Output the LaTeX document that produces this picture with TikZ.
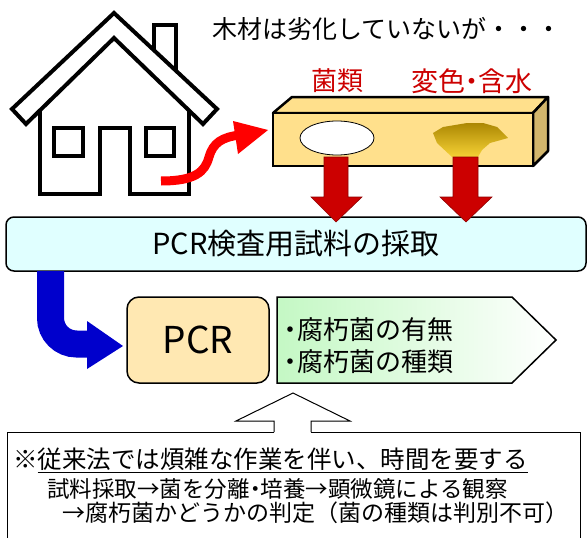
\documentclass[tikz,border=0pt]{standalone}
\usepackage{fontspec}
\setmainfont{Noto Sans CJK JP}
\newfontfamily\propfont[RawFeature=+palt]{Noto Sans CJK JP}
\usetikzlibrary{arrows.meta}

\definecolor{woodfront}{HTML}{FFE08C}
\definecolor{woodside}{HTML}{D2B66C}
\definecolor{rotdark}{HTML}{9A7600}
\definecolor{rotlight}{HTML}{F2CC10}
\definecolor{darkred}{HTML}{CC0000}
\definecolor{samplecyan}{HTML}{E0FFFF}
\definecolor{pcrorange}{HTML}{FFE8B2}
\definecolor{resgreen}{HTML}{C4F8C4}
\definecolor{flowblue}{HTML}{0000CC}

\newcommand{\fsz}[1]{\fontsize{#1}{#1}\selectfont}
\newcommand{\pdot}{{\propfont ・}}

\tikzset{
  house/.style={line width=4pt, line join=miter},
  redarrow/.style={fill=darkred, draw=darkred!70!black, line width=0.6pt},
  box/.style={draw, line width=1.5pt, inner sep=0pt},
}

\begin{document}
\begin{tikzpicture}[x=1pt, y=-1pt, >=latex]
    \useasboundingbox (0,0) rectangle (587,538);

    % 1. Nha: mai, ong khoi, tuong, cua so
    \draw[house, fill=white] (12,109) -- (114,13) -- (217,109) -- (203,124)
        -- (114,38) -- (26,124) -- cycle;
    \draw[house] (154,50) -- (154,25) -- (176,25) -- (176,71);
    \draw[house] (40,110) -- (40,194) -- (100,194) -- (100,128) -- (130,128)
        -- (130,194) -- (189,194) -- (189,110);
    \draw[house] (54,128) rectangle (83,156);
    \draw[house] (146,128) rectangle (174,156);

    % mui ten do uon cong
    \draw[red, line width=9pt] (161,181) .. controls (195,181) and (205,172) .. (209,157)
        .. controls (213,143) and (222,137) .. (240,135);
    \fill[red] (233,121) -- (268,130) -- (238,154) -- cycle;

    % 2. Thanh go
    \draw[line width=2.5pt, line join=round, fill=woodfront] (273,113) -- (292,97) -- (548,97) -- (533,113) -- cycle;
    \draw[line width=2.5pt, line join=round, fill=woodside] (533,113) -- (548,97) -- (548,151) -- (533,166) -- cycle;
    \draw[line width=2.5pt, fill=woodfront] (273,113) rectangle (533,166);

    % vet nam va vet bien mau
    \draw[line width=0.8pt, fill=white] (337,138) ellipse [x radius=37, y radius=17];
    \shade[top color=rotdark!80!rotlight, middle color=rotdark, bottom color=rotlight!70!woodfront]
        (433,133) -- (443,127) -- (467,123) -- (483,123) -- (497,127) -- (508,138)
        -- (490,143) -- (482,150) -- (478,157) -- (452,157) -- (437,143) -- cycle;

    \node[darkred, inner sep=0pt] (fungi) at (337,81) {\fsz{26}菌類};
    \node[darkred, inner sep=0pt] (stain) at (472,81) {\fsz{27}変色\pdot 含水};
    \node[anchor=west, inner sep=0pt] (intact) at (212,29) {\fsz{25}木材は劣化していないが・・・};

    % 3. Lay mau
    \node[box, rounded corners=8pt, fill=samplecyan, minimum width=580pt, minimum height=54pt]
        (sample) at (296,244) {\fsz{29}PCR検査用試料の採取};

    \draw[redarrow] (324,157) -- (348,157) -- (348,197) -- (362,197) -- (336,222)
        -- (311,197) -- (324,197) -- cycle;
    \draw[redarrow] (453,157) -- (478,157) -- (478,197) -- (492,197) -- (466,222)
        -- (440,197) -- (453,197) -- cycle;

    % 4. PCR va ket qua
    \draw[flowblue, line width=27pt, rounded corners=26pt] (50.5,271) |- (89,344);
    \fill[flowblue] (87,321) -- (123,346) -- (87,369) -- cycle;

    \node[box, rounded corners=12pt, fill=pcrorange, minimum width=142pt, minimum height=86pt]
        (pcr) at (198,340) {\fsz{37}PCR};

    \shade[left color=resgreen, right color=white] (277,297) -- (512,297) -- (556,340)
        -- (512,383) -- (277,383) -- cycle;
    \draw[line width=1.5pt] (277,297) -- (512,297) -- (556,340) -- (512,383) -- (277,383) -- cycle;
    \node[anchor=west, align=left, inner sep=0pt, font=\fontsize{26}{32}\selectfont]
        (result) at (284,346) {\pdot 腐朽菌の有無\\\pdot 腐朽菌の種類};

    % 5. Phuong phap cu
    \draw[line width=1pt] (7,545) -- (7,432) -- (580,432) -- (580,545);
    \fill[white] (274,430) -- (274,434) -- (311,434) -- (311,430) -- cycle;
    \draw[line width=1pt, fill=white] (274,432) -- (274,421) -- (236,421) -- (293,393)
        -- (350,421) -- (311,421) -- (311,432);

    \node[anchor=west, inner sep=0pt] (old) at (13,460)
        {\fsz{24.5}※\underline{従来法では煩雑な作業を伴い、時間を要する}};
    \node[anchor=west, inner sep=0pt] (steps) at (47,489)
        {\fsz{22.5}試料採取→菌を分離\pdot 培養→顕微鏡による観察};
    \node[anchor=west, inner sep=0pt] (judge) at (62,513)
        {\fsz{23}→腐朽菌かどうかの判定（菌の種類は判別不可）};

\end{tikzpicture}
\end{document}
